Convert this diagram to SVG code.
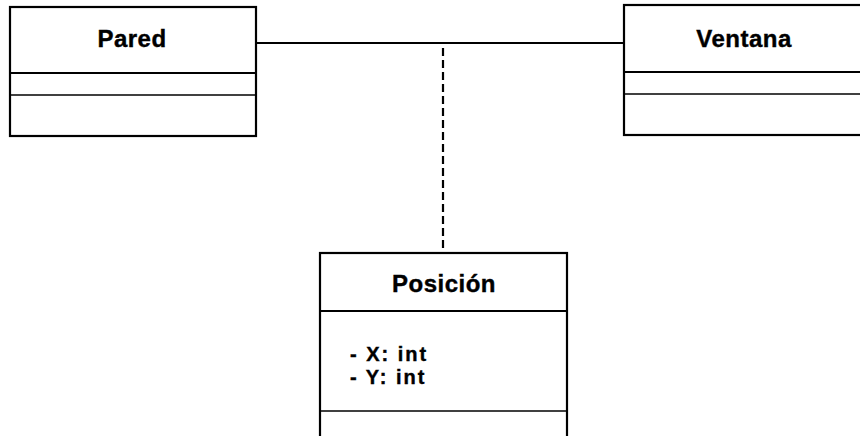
<svg xmlns="http://www.w3.org/2000/svg" width="860" height="436" viewBox="0 0 860 436">
<style>
.box{fill:#fff;stroke:#000;stroke-width:2.2}
.div{stroke:#000;stroke-width:2.2}
.thin{stroke:#000;stroke-width:1.5}
.name{font-family:"Liberation Sans",Arial,sans-serif;font-weight:bold;font-size:24px;letter-spacing:0.5px;text-anchor:middle;fill:#000;stroke:#000;stroke-width:0.4}
.attr{font-family:"Liberation Sans",Arial,sans-serif;font-weight:bold;font-size:20px;letter-spacing:2px;fill:#000;stroke:#000;stroke-width:0.4}
.conn{stroke:#000;stroke-width:2.2;fill:none}
</style>
<rect width="860" height="436" fill="#fff"/>
<g id="connectors">
<line class="conn" x1="256" y1="43" x2="624" y2="43"/>
<line class="conn" x1="443" y1="48" x2="443" y2="253" stroke-dasharray="8,4"/>
</g>
<g id="pared">
<rect class="box" x="10" y="7" width="246" height="129"/>
<line class="div" x1="10" y1="73" x2="256" y2="73"/>
<line class="thin" x1="10" y1="95" x2="256" y2="95"/>
<text class="name" x="132" y="47">Pared</text>
</g>
<g id="ventana">
<rect class="box" x="624" y="5" width="250" height="130"/>
<line class="div" x1="624" y1="72" x2="874" y2="72"/>
<line class="thin" x1="624" y1="94" x2="874" y2="94"/>
<text class="name" x="744" y="47">Ventana</text>
</g>
<g id="posicion">
<rect class="box" x="320" y="253" width="247" height="200"/>
<line class="div" x1="320" y1="311" x2="567" y2="311"/>
<line class="thin" x1="320" y1="411" x2="567" y2="411"/>
<text class="name" x="444" y="292">Posición</text>
<text class="attr" x="350" y="361">- X: int</text>
<text class="attr" x="350" y="384">- Y: int</text>
</g>
</svg>
